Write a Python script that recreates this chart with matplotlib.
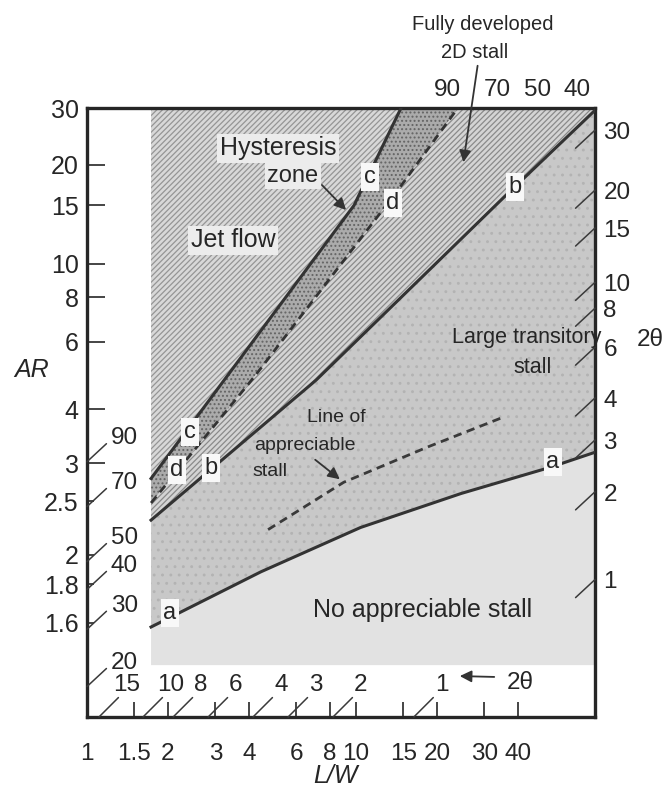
import numpy as np
import matplotlib
matplotlib.use("Agg")
import matplotlib.pyplot as plt
from matplotlib.patches import Polygon, FancyArrowPatch
from matplotlib.ticker import NullLocator

plt.rcParams['font.family'] = ['Liberation Sans', 'DejaVu Sans']
plt.rcParams['hatch.linewidth'] = 0.9

W, H = 665, 797
INK = '#262626'

# stall boundaries, as (L/W, AR) pairs
line_a_lw = [1.73, 4.43, 10.4, 24.6, 53.0, 77.3]
line_a_ar = [1.58, 1.88, 2.23, 2.59, 2.94, 3.17]
line_b_lw = [1.73, 7.10, 35.5, 77.3]
line_b_ar = [2.30, 4.74, 15.9, 29.7]
line_c_lw = [1.73, 9.83, 14.7]
line_c_ar = [2.78, 15.0, 30.2]
line_d_lw = [1.73, 4.18, 14.3, 23.9]
line_d_ar = [2.48, 4.83, 16.7, 30.2]
appreciable_lw = [4.71, 9.0, 18.5, 34.6]
appreciable_ar = [2.21, 2.73, 3.26, 3.81]

# extent of the shaded map inside the frame
shade_lw0, shade_ar0 = 1.73, 1.435
lw_lim = (1.0, 77.3)
ar_lim = (1.294, 30.2)

# axis scales
ar_major = [30, 20, 15, 10, 8, 6, 4, 3]
ar_minor = [2.5, 2, 1.8, 1.6]
lw_ticks = [1, 1.5, 2, 3, 4, 6, 8, 10, 15, 20, 30, 40]

# 2-theta scales round the frame
theta_left = ['90', '70', '50', '40', '30', '20']
theta_left_ar = [3.02, 2.44, 1.95, 1.77, 1.57, 1.37]
theta_bottom = ['15', '10', '8', '6', '4', '3', '2', '1']
theta_bottom_lw = [1.108, 1.615, 2.09, 2.82, 4.14, 5.59, 8.21, 16.4]
theta_right = ['30', '20', '15', '10', '8', '6', '4', '3', '2', '1']
theta_right_ar = [25.7, 16.7, 12.8, 8.83, 7.44, 5.80, 4.27, 3.38, 2.61, 1.83]
theta_top = ['90', '70', '50', '40']
theta_top_lw = [21.8, 33.4, 47.1, 66.3]


def px(x, y):
    """image pixel (from top-left) -> figure fraction"""
    return x / W, 1 - y / H


def fwd(a):
    return np.log10(np.maximum(np.asarray(a, float) - 1, 1e-6))


def inv(v):
    return 10 ** np.asarray(v, float) + 1


fig = plt.figure(figsize=(W / 100, H / 100), dpi=100)
ax = fig.add_axes([87 / W, 1 - 717 / H, (595 - 87) / W, (717 - 108) / H])
ax.set_xscale('log')
ax.set_yscale('function', functions=(fwd, inv))
ax.set_xlim(*lw_lim)
ax.set_ylim(*ar_lim)

x1, y1 = lw_lim[1], ar_lim[1]
a = list(zip(line_a_lw, line_a_ar))
b = list(zip(line_b_lw, line_b_ar))
c = list(zip(line_c_lw, line_c_ar))
d = list(zip(line_d_lw, line_d_ar))

regions = [
    (a + [(x1, shade_ar0), (shade_lw0, shade_ar0)], '#e2e2e2', None, None),
    (a + b[::-1], '#c8c8c8', '..', '#b3b3b3'),
    (b + [(x1, y1)] + d[::-1], '#d4d4d4', '//////', '#8a8a8a'),
    (d + c[::-1], '#ababab', '....', '#646464'),
    (c + [(shade_lw0, y1)], '#d8d8d8', '//////', '#959595'),
]
for verts, fc, hatch, hc in regions:
    ax.add_patch(Polygon(verts, closed=True, facecolor=fc, hatch=hatch,
                         edgecolor=hc if hc else fc, lw=0, zorder=1))

ax.plot(line_a_lw, line_a_ar, color='#333333', lw=2.2, zorder=3)
ax.plot(line_b_lw, line_b_ar, color='#333333', lw=2.2, zorder=3)
ax.plot(line_c_lw, line_c_ar, color='#333333', lw=2.2, zorder=3)
ax.plot(line_d_lw, line_d_ar, color='#333333', lw=2.0, ls=(0, (3, 2)), zorder=3)
ax.plot(appreciable_lw, appreciable_ar, color='#3a3a3a', lw=2.0,
        ls=(0, (3, 2)), zorder=3)

# frame, ticks
for s in ax.spines.values():
    s.set_linewidth(2.4)
    s.set_color(INK)
ax.set_xticks(lw_ticks, [f'{v:g}' for v in lw_ticks])
ax.xaxis.set_minor_locator(NullLocator())
ax.tick_params(axis='x', direction='in', length=11, width=1.2, color=INK,
               pad=19, labelsize=17.5, labelcolor=INK)
ax.set_yticks(ar_major, [f'{v:g}' for v in ar_major])
ax.set_yticks(ar_minor, [f'{v:g}' for v in ar_minor], minor=True)
ax.tick_params(axis='y', which='major', direction='in', length=13, width=1.2,
               color=INK, pad=6, labelsize=18, labelcolor=INK)
ax.tick_params(axis='y', which='minor', direction='in', length=5, width=1.2,
               color=INK, pad=6, labelsize=18, labelcolor=INK)

tick_kw = dict(arrowstyle='-', color='#3a3a3a', lw=1.1, shrinkA=0, shrinkB=0)
for lab, v in zip(theta_left, theta_left_ar):
    ax.annotate('', xy=(lw_lim[0], v), xytext=(14, 13), textcoords='offset points',
                arrowprops=tick_kw, annotation_clip=False)
    ax.annotate(lab, xy=(lw_lim[0], v), xytext=(17, 17), textcoords='offset points',
                ha='left', va='center', fontsize=17.5, color=INK, annotation_clip=False)
for lab, v in zip(theta_bottom, theta_bottom_lw):
    ax.annotate('', xy=(v, ar_lim[0]), xytext=(14, 14), textcoords='offset points',
                arrowprops=tick_kw, annotation_clip=False)
    ax.annotate(lab, xy=(v, ar_lim[0]), xytext=(20, 23), textcoords='offset points',
                ha='center', va='center', fontsize=17.5, color=INK, annotation_clip=False)
for lab, v in zip(theta_right, theta_right_ar):
    ax.annotate('', xy=(x1, v), xytext=(-14, -13), textcoords='offset points',
                arrowprops=tick_kw, annotation_clip=False, zorder=4)
    ax.annotate(lab, xy=(x1, v), xytext=(6, -2), textcoords='offset points',
                ha='left', va='center', fontsize=17.5, color=INK, annotation_clip=False)
for lab, v in zip(theta_top, theta_top_lw):
    ax.annotate(lab, xy=(v, y1), xytext=(0, 13), textcoords='offset points',
                ha='center', va='center', fontsize=17.5, color=INK, annotation_clip=False)

# axis titles
fig.text(*px(32, 370), 'AR', fontsize=18, style='italic', color=INK,
         ha='center', va='center')
fig.text(*px(335, 776), 'L/W', fontsize=18, style='italic', color=INK,
         ha='center', va='center')
fig.text(*px(650, 340), '2θ', fontsize=17.5, color=INK, ha='center', va='center')
fig.text(*px(520, 683), '2θ', fontsize=17.5, color=INK, ha='center', va='center')

# region labels
box_light = dict(boxstyle='square,pad=0.1', fc='#ececec', ec='none')
box_white = dict(boxstyle='square,pad=0.12', fc='#f8f8f8', ec='none')
labels = [
    ('Hysteresis', 278, 148, 18, box_light),
    ('zone', 293, 176, 17, box_light),
    ('Jet flow', 233, 240, 18, box_light),
    ('Large transitory', 527, 337, 15.5, None),
    ('stall', 533, 368, 15.5, None),
    ('Line of', 336, 418, 14, None),
    ('appreciable', 305, 445, 14, None),
    ('stall', 270, 471, 14, None),
    ('No appreciable stall', 423, 610, 18, None),
    ('Fully developed', 483, 25, 14.5, None),
    ('2D stall', 475, 52, 14.5, None),
]
for t, x, y, fs, box in labels:
    fig.text(*px(x, y), t, fontsize=fs, color=INK, ha='center', va='center',
             bbox=box, zorder=5)

letters = [('c', 370, 177), ('d', 393, 203), ('b', 515, 187), ('c', 190, 432),
           ('d', 177, 470), ('b', 211, 468), ('a', 170, 613), ('a', 553, 462)]
for t, x, y in letters:
    fig.text(*px(x, y), t, fontsize=17, color=INK, ha='center', va='center',
             bbox=box_white, zorder=5)

arrows = [((320, 183), (348, 212)), ((478, 63), (463, 165)),
          ((313, 458), (342, 481)), ((497, 677), (457, 676))]
for (tx, ty), (hx, hy) in arrows:
    fig.add_artist(FancyArrowPatch(
        px(tx, ty), px(hx, hy), transform=fig.transFigure,
        arrowstyle='-|>,head_length=7,head_width=3.5', color='#333333',
        lw=1.3, zorder=6))

fig.savefig('out.png', dpi=100)
